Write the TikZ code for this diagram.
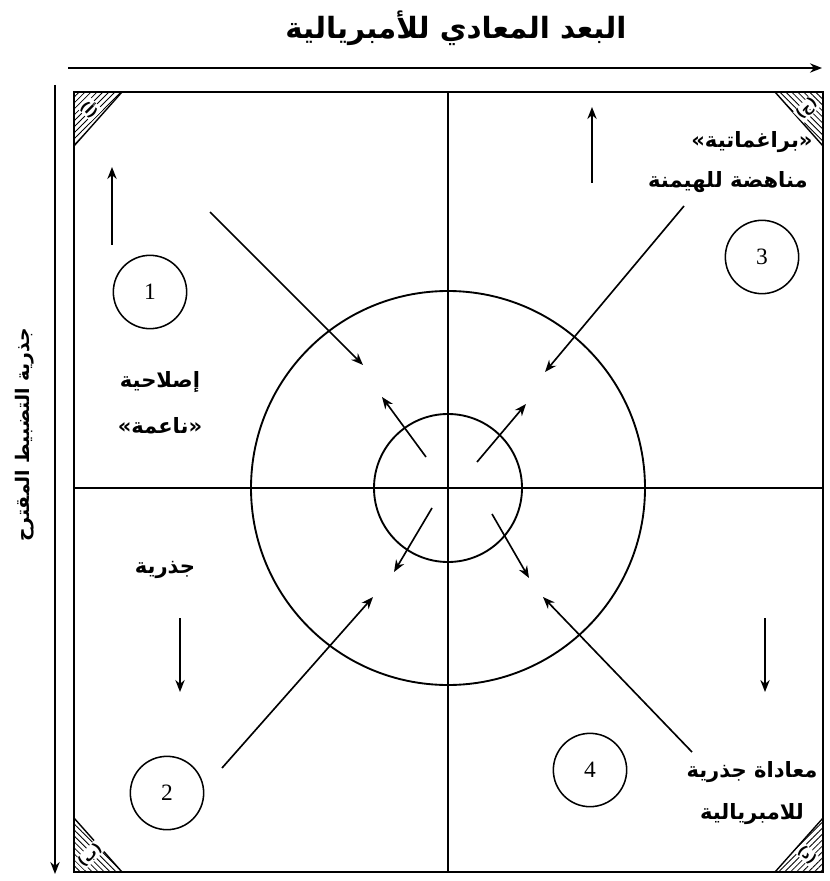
\documentclass[tikz,border=0pt]{standalone}
\usepackage{fontspec}
\usetikzlibrary{arrows.meta,patterns.meta}
\TeXXeTstate=1
\newfontfamily\arabicfont[Script=Arabic]{DejaVu Sans}
\newfontfamily\digitfont{Liberation Serif}
\tikzset{
  rule/.style={line width=1.6pt},
  pre/.style={-{Stealth[length=3.6mm,width=2.8mm]}, line width=1.4pt},
  numc/.style={circle, draw, line width=1.3pt, minimum size=2.2cm, inner sep=0pt, font=\digitfont\fontsize{20}{22}\selectfont},
  lbl/.style={font=\arabicfont\bfseries\fontsize{18}{22}\selectfont, inner sep=1pt},
  hatchtri/.style={pattern={Lines[angle=#1,distance=3.6pt,line width=0.7pt]}, draw, line width=1.2pt},
  cornertag/.style={font=\arabicfont\bfseries\fontsize{12}{13}\selectfont, inner sep=0.6pt, fill=white},
}
\begin{document}
\begin{tikzpicture}[x=0.03cm,y=-0.03cm]
\useasboundingbox (0,0) rectangle (829,881);
% frame, cross and the two axes
\coordinate (tl) at (74,92);
\coordinate (br) at (823,872);
\coordinate (o) at (448,488);
\draw[rule] (tl) rectangle (br);
\draw[rule] (tl -| o) -- (br -| o);
\draw[rule] (tl |- o) -- (br |- o);
\coordinate (ax1) at (68,68);
\coordinate (ax2) at (822,68);
\coordinate (ay1) at (55,85);
\coordinate (ay2) at (55,874);
\draw[pre] (ax1) -- (ax2);
\draw[pre] (ay1) -- (ay2);
\node[lbl, font=\arabicfont\bfseries\fontsize{25}{28}\selectfont] (xtitle) at (456,28) {\beginR البعد المعادي للأمبريالية\endR};
\node[lbl, font=\arabicfont\bfseries\fontsize{16}{19}\selectfont, rotate=90] (ytitle) at (25,435) {\beginR جذرية التضبيط المقترح\endR};
% hatched corners
\filldraw[hatchtri=45] (tl) -- ++(48,0) -- ++(-48,54) -- cycle;
\filldraw[hatchtri=-45] (tl -| br) -- ++(-48,0) -- ++(48,54) -- cycle;
\filldraw[hatchtri=-45] (tl |- br) -- ++(48,0) -- ++(-48,-54) -- cycle;
\filldraw[hatchtri=45] (br) -- ++(-48,0) -- ++(48,-54) -- cycle;
\node[cornertag, rotate=-45] (ca) at (90,109) {\beginR(أ)\endR};
\node[cornertag, rotate=45] (cc) at (807,109) {\beginR(ج)\endR};
\node[cornertag, rotate=45] (cb) at (90,855) {\beginR(ب)\endR};
\node[cornertag, rotate=-45] (cd) at (807,855) {\beginR(د)\endR};
% rings
\draw[rule] (o) circle[radius=197];
\draw[rule] (o) circle[radius=74];
% numbered circles
\node[numc] (n1) at (150,292) {1};
\node[numc] (n2) at (167,793) {2};
\node[numc] (n3) at (762,257) {3};
\node[numc] (n4) at (590,770) {4};
% labels
\node[lbl] (t1a) at (160,382) {\beginR إصلاحية\endR};
\node[lbl] (t1b) at (160,426) {\beginR «ناعمة»\endR};
\node[lbl] (t2) at (165,570) {\beginR جذرية\endR};
\node[lbl] (t3a) at (752,142) {\beginR «براغماتية»\endR};
\node[lbl] (t3b) at (728,182) {\beginR مناهضة للهيمنة\endR};
\node[lbl] (t4a) at (752,772) {\beginR معاداة جذرية\endR};
\node[lbl] (t4b) at (752,814) {\beginR للامبريالية\endR};
% arrows toward the rings
\coordinate (d1s) at (210,212); \coordinate (d1e) at (363,365);
\coordinate (d3s) at (684,206); \coordinate (d3e) at (545,372);
\coordinate (d2s) at (222,768); \coordinate (d2e) at (373,597);
\coordinate (d4s) at (692,752); \coordinate (d4e) at (543,597);
\foreach \k in {1,2,3,4} \draw[pre] (d\k s) -- (d\k e);
% arrows out of the inner ring
\coordinate (i1s) at (426,457); \coordinate (i1e) at (382,397);
\coordinate (i3s) at (477,462); \coordinate (i3e) at (526,404);
\coordinate (i2s) at (432,508); \coordinate (i2e) at (394,572);
\coordinate (i4s) at (492,514); \coordinate (i4e) at (529,578);
\foreach \k in {1,2,3,4} \draw[pre] (i\k s) -- (i\k e);
% short vertical arrows
\coordinate (u1s) at (112,245); \coordinate (u1e) at (112,167);
\coordinate (u3s) at (592,183); \coordinate (u3e) at (592,107);
\coordinate (u2s) at (180,618); \coordinate (u2e) at (180,692);
\coordinate (u4s) at (765,618); \coordinate (u4e) at (765,692);
\foreach \k in {1,2,3,4} \draw[pre] (u\k s) -- (u\k e);
\end{tikzpicture}
\end{document}
